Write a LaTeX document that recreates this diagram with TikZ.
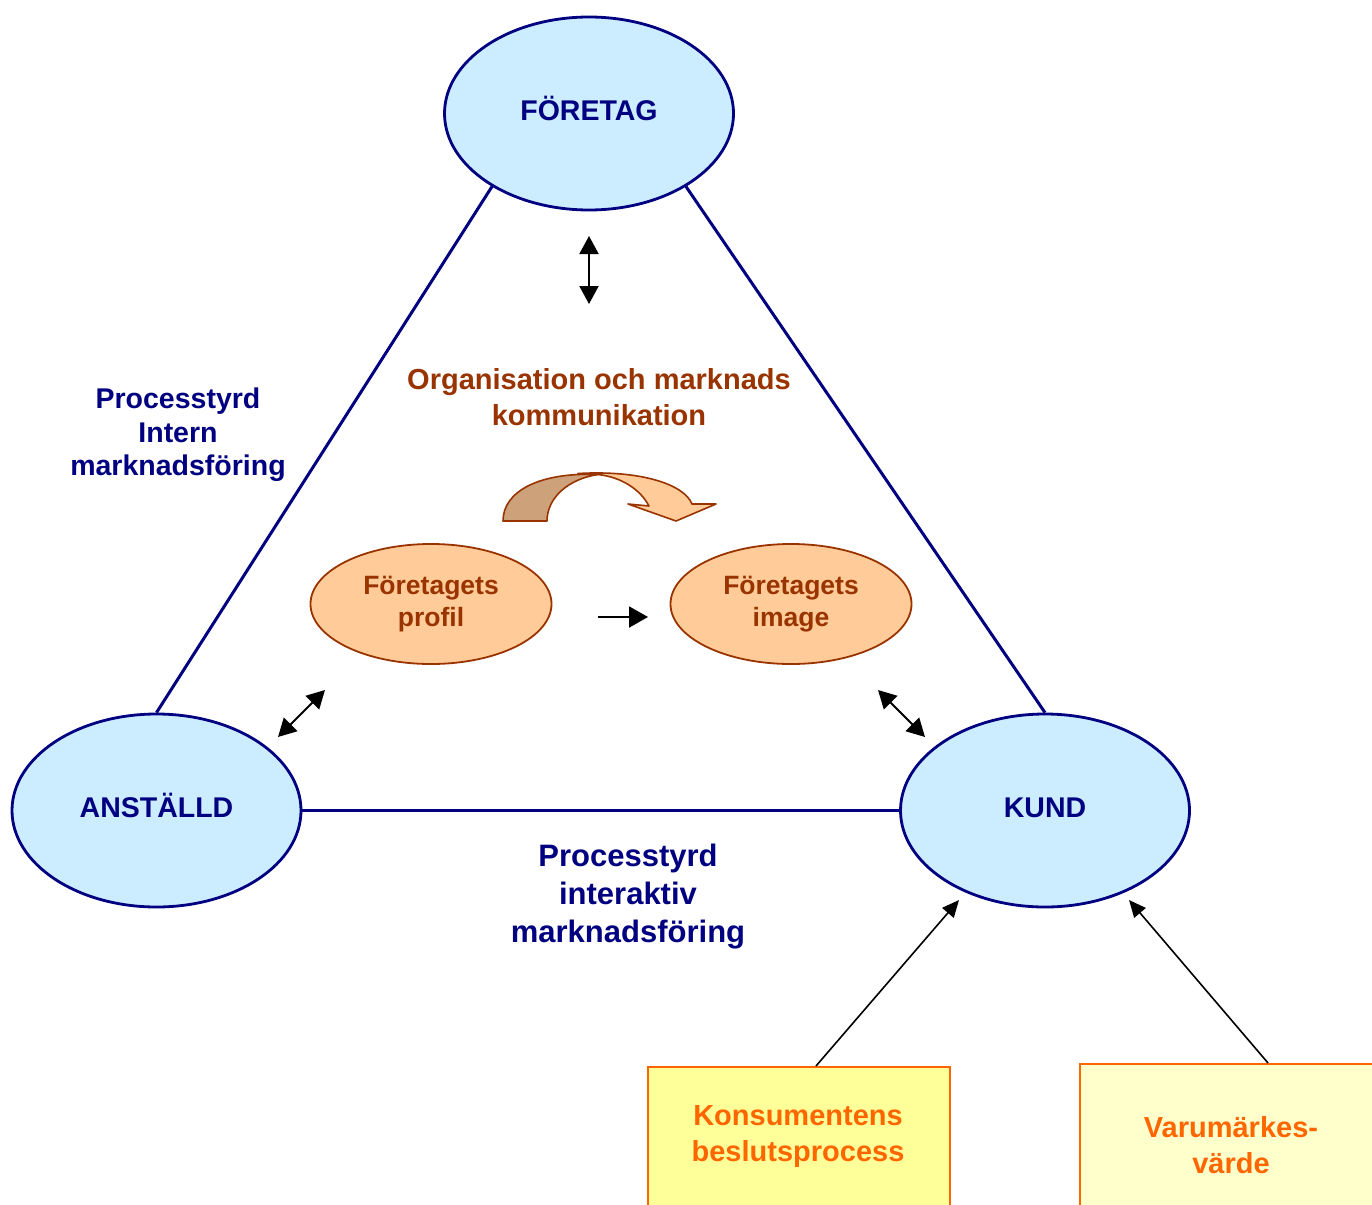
\documentclass[tikz,border=0pt]{standalone}
\usepackage{fontspec}
\setmainfont{Liberation Sans}
\usetikzlibrary{shapes.geometric,arrows.meta,calc}
\definecolor{navy}{HTML}{000080}
\definecolor{skyfill}{HTML}{CCECFF}
\definecolor{rust}{HTML}{993300}
\definecolor{peach}{HTML}{FFCC99}
\definecolor{ribbondark}{HTML}{CDA27A}
\definecolor{flame}{HTML}{FF6600}
\definecolor{lemon}{HTML}{FFFF99}
\definecolor{cream}{HTML}{FFFFCC}
\tikzset{
  party/.style={ellipse, draw=navy, fill=skyfill, line width=2.8pt,
    minimum width=289pt, minimum height=193pt, inner sep=0pt,
    text height=20pt, text depth=6.6pt,
    text=navy, font=\fontsize{28.5}{34}\selectfont\bfseries},
  imagebox/.style={ellipse, draw=rust, fill=peach, line width=1.8pt,
    minimum width=241pt, minimum height=120pt, inner sep=0pt, align=center,
    text=rust, font=\fontsize{26.5}{32}\selectfont\bfseries},
  tie/.style={draw=navy, line width=3pt},
  sidelabel/.style={align=center, text=navy},
  centrelabel/.style={align=center, text=rust, font=\fontsize{29}{36}\selectfont\bfseries},
  factor/.style={draw=flame, line width=1.8pt, minimum height=220pt, anchor=north west, inner sep=0pt},
  factortext/.style={align=center, text=flame, font=\fontsize{29}{36}\selectfont\bfseries},
  twoway/.style={{Triangle[length=18pt,width=19pt]}-{Triangle[length=18pt,width=19pt]}, line width=2pt},
  oneway/.style={-{Triangle[length=19pt,width=21pt]}, line width=2pt},
  influence/.style={-{Triangle[length=17pt,width=15pt]}, line width=1.6pt},
  ribbon/.style={draw=rust, line width=1.6pt, line join=round}
}
\begin{document}
\begin{tikzpicture}[x=1pt,y=-1pt]
\clip (0,0) rectangle (1372,1204);
\fill[white] (0,0) rectangle (1372,1204);

% the three parties of the triangle
\node[party] (foretag)  at (589,113.5) {FÖRETAG};
\node[party] (anstalld) at (156.5,810.5) {ANSTÄLLD};
\node[party] (kund)     at (1045,810.5) {KUND};

% sides of the triangle
\draw[tie] (foretag.217) -- (anstalld.north);
\draw[tie] (foretag.323) -- (kund.north);
\draw[tie] (anstalld.east) -- (kund.west);

% side labels
\node[sidelabel, font=\fontsize{28.5}{33.5}\selectfont\bfseries] (intern) at (178,435) {Processtyrd\\Intern\\marknadsföring};
\node[sidelabel, font=\fontsize{31}{38}\selectfont\bfseries] (interaktiv) at (628,897) {Processtyrd\\interaktiv\\marknadsföring};

% centre of the triangle
\node[centrelabel] (komm) at (599,397) {Organisation och marknads\\kommunikation};

\node[imagebox] (profil) at (431,604) {Företagets\\profil};
\node[imagebox] (image)  at (791,604) {Företagets\\image};

% curved ribbon arrow above the two ovals
\filldraw[ribbon, fill=peach]
  (578,473.5) .. controls (640,470) and (684,484) .. (692,504)
  -- (716,504) -- (676,521) -- (628,504) -- (649,506)
  .. controls (640,489) and (621,477) .. (598,474.5) -- cycle;
\filldraw[ribbon, fill=ribbondark]
  (503,521) .. controls (503,491) and (540,472) .. (598,474.5)
  .. controls (568,479) and (547,498) .. (547,521) -- cycle;

% small arrows
\coordinate (v1) at (589,236);
\coordinate (v2) at (589,304);
\draw[twoway] (v1) -- (v2);
\coordinate (l1) at (278,737);
\coordinate (l2) at (325,690);
\draw[twoway] (l1) -- (l2);
\coordinate (r1) at (878,690);
\coordinate (r2) at (925,737);
\draw[twoway] (r1) -- (r2);
\coordinate (h1) at (598,617);
\coordinate (h2) at (648,617);
\draw[oneway] (h1) -- (h2);

% factors acting on the customer
\node[factor, fill=lemon, minimum width=302pt] (kons) at (647,1066) {};
\node[factortext] (konstext) at (798,1137) {Konsumentens\\beslutsprocess};
\node[factor, fill=cream, minimum width=330pt] (varu) at (1079,1063) {};
\node[factortext] (varutext) at (1231,1145) {Varumärkes-\\värde};

\coordinate (k1) at (959,900);
\coordinate (k2) at (1129,900);
\draw[influence] ($(kons.north west)+(169,0)$) -- (k1);
\draw[influence] ($(varu.north west)+(189,0)$) -- (k2);
\end{tikzpicture}
\end{document}
